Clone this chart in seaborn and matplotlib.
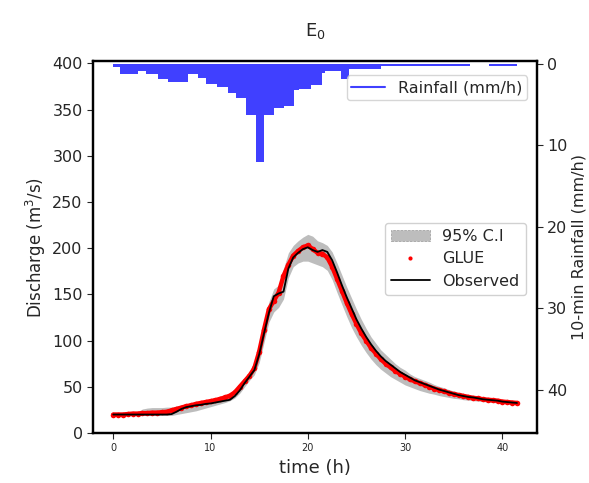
import numpy as np
import pandas as pd
import matplotlib
matplotlib.use("Agg")
import matplotlib.pyplot as plt
import seaborn as sns
from matplotlib.lines import Line2D
from matplotlib.patches import Patch

# ---------------- data ----------------
time_h = np.arange(0, 42, 0.5)  # 0 .. 41.5 h

observed = [
    20, 20, 20, 20, 20, 20, 20, 20, 20, 20,
    20, 20, 20.5, 23, 26, 28, 29, 30, 30.5, 31.5,
    32, 33, 34, 35, 36, 40, 46, 54, 61, 68,
    85, 108, 130, 148, 151, 153, 178, 190, 195, 199,
    201, 198, 196, 198, 196, 187, 174, 160, 147, 135,
    123, 113, 104, 96, 89, 83, 78, 74, 70, 66,
    63, 60, 57, 55, 53, 51, 49, 47, 45.5, 44,
    42.5, 41, 40, 39, 38.5, 37.5, 36.5, 36, 35.5, 35,
    34, 33.5, 33, 32.5,
]

glue = [
    20, 20, 20, 20.5, 21, 21, 21.5, 21.5, 22, 22,
    22.5, 23, 24.5, 26, 27.5, 29, 30, 31.5, 32.5, 33.5,
    34.5, 35.5, 37, 38.5, 40.5, 44, 50, 56, 62, 70,
    88, 112, 134, 143, 152, 170, 182, 192, 197, 201,
    203, 199, 195, 194, 190, 180, 167, 154, 141, 129,
    118, 108, 100, 92, 86, 80, 75, 71, 67, 64,
    61, 58, 56, 54, 52, 50, 48, 46.5, 45, 43.5,
    42, 41, 40, 39, 38, 37.5, 36.5, 36, 35.5, 35,
    34, 33.5, 33, 32.5,
]

ci_low = [
    19, 19, 19, 19, 19, 19, 19, 19, 19, 19,
    19, 19, 19, 20, 21, 22, 23, 24, 25.5, 27,
    28.5, 30, 31.5, 33, 35, 38, 43, 50, 57, 63,
    76, 98, 120, 131, 136, 145, 168, 180, 184, 186,
    186, 184, 182, 180, 176, 166, 152, 139, 126, 114,
    104, 95, 87, 80, 74, 69, 65, 61, 58, 55,
    52, 50, 48, 46, 44.5, 43, 42, 40.5, 39.5, 38.5,
    37.5, 37, 36, 35.5, 35, 34.5, 34, 33.5, 33, 32.5,
    32, 31.5, 31, 31,
]

ci_high = [
    21, 21, 21, 21, 21, 23, 26, 27, 27.5, 27.5,
    27.5, 28, 28, 29, 30, 31, 32, 33, 34, 35,
    36, 37, 38, 39.5, 42, 46, 52, 59, 66, 76,
    96, 120, 142, 156, 160, 178, 195, 203, 208, 212,
    215, 213, 208, 206, 203, 196, 184, 171, 158, 146,
    134, 123, 113, 104, 97, 90, 85, 80, 75, 71,
    68, 64, 61, 59, 57, 55, 52.5, 50.5, 49, 47,
    45.5, 44, 43, 41.5, 40.5, 39.5, 38.5, 37.5, 37, 36,
    35.5, 35, 34.5, 34,
]

rain_time = [0, 0.65, 2.5, 3.4, 4.6, 5.6, 7.7, 8.7, 9.5, 10.7, 11.8, 12.6,
             13.6, 14.7, 15.5, 16.5, 17.6, 18.6, 19.1, 20.3, 21.5, 21.8,
             23.4, 24.2, 27.5, 34.0, 36.7, 38.6, 41.5]
rain_value = [0.45, 1.25, 0.93, 1.33, 1.86, 2.26, 1.33, 1.74, 2.46, 2.87, 3.6, 4.28,
              6.3, 12.1, 6.3, 5.4, 5.2, 3.3, 3.07, 2.67, 1.2, 0.93,
              1.86, 0.65, 0.36, 0.24, 0.05, 0.36, 0.36]

df = pd.DataFrame({"time": time_h, "observed": observed, "glue": glue,
                   "lo": ci_low, "hi": ci_high})

# ---------------- figure ----------------
sns.set_style("ticks")
plt.rcParams["font.family"] = ["DejaVu Sans"]
text_c = "#262626"

fig = plt.figure(figsize=(5.89, 4.83), dpi=100)
ax = fig.add_axes([0.158, 0.1035, 0.754, 0.770])

ax.fill_between(df["time"], df["lo"], df["hi"], color="0.74", lw=0, zorder=1)
sns.lineplot(data=df, x="time", y="glue", ax=ax, color="red", lw=3.2,
             marker="o", markersize=4, markeredgewidth=0, zorder=2)
sns.lineplot(data=df, x="time", y="observed", ax=ax, color="black", lw=1.3,
             zorder=3)

ax.set_ylim(0, 402.5)
ax.set_yticks(np.arange(0, 401, 50))
ax.set_xticks([0, 10, 20, 30, 40])
ax.set_xlabel("time (h)", fontsize=13, color=text_c)
ax.set_ylabel("Discharge (m$^3$/s)", fontsize=12, color=text_c, labelpad=3)
ax.tick_params(axis="x", labelsize=7, colors=text_c, length=4)
ax.tick_params(axis="y", labelsize=11.5, colors=text_c, length=4)
ax.set_title("E$_0$", fontsize=13, pad=18, color=text_c)
for s in ax.spines.values():
    s.set_linewidth(1.6)
    s.set_color("black")

ax2 = ax.twinx()
ax2.fill_between(rain_time, 0, rain_value, step="post", color="blue",
                 alpha=0.75, lw=0)
ax2.set_ylim(45.3, -0.3)
ax2.set_yticks([0, 10, 20, 30, 40])
ax2.set_ylabel("10-min Rainfall (mm/h)", fontsize=11.5, color=text_c,
               labelpad=3)
ax2.tick_params(axis="y", labelsize=11.5, colors=text_c, length=4, pad=3)
for s in ax2.spines.values():
    s.set_linewidth(1.6)
    s.set_color("black")

ax.set_xlim(-2.075, 43.575)

rain_handle = [Line2D([0], [0], color=(0.25, 0.25, 1.0), lw=1.5)]
leg1 = ax2.legend(rain_handle, ["Rainfall (mm/h)"], loc="upper right",
                  bbox_to_anchor=(0.995, 0.983), fontsize=11.5, framealpha=0.8,
                  handlelength=2.1, borderpad=0.3)
for t in leg1.get_texts():
    t.set_color(text_c)

handles = [Patch(facecolor="0.74", edgecolor="0.6", linestyle="--", lw=0.5),
           Line2D([0], [0], color="red", marker="o", markersize=3, lw=0,
                  markeredgewidth=0),
           Line2D([0], [0], color="black", lw=1.3)]
leg2 = ax2.legend(handles, ["95% C.I", "GLUE", "Observed"], loc="center right",
                  bbox_to_anchor=(0.993, 0.468), fontsize=11.5, framealpha=0.9,
                  handlelength=2.4, borderpad=0.4, labelspacing=0.45)
for t in leg2.get_texts():
    t.set_color(text_c)
ax2.add_artist(leg1)

fig.savefig("out.png", dpi=100)
